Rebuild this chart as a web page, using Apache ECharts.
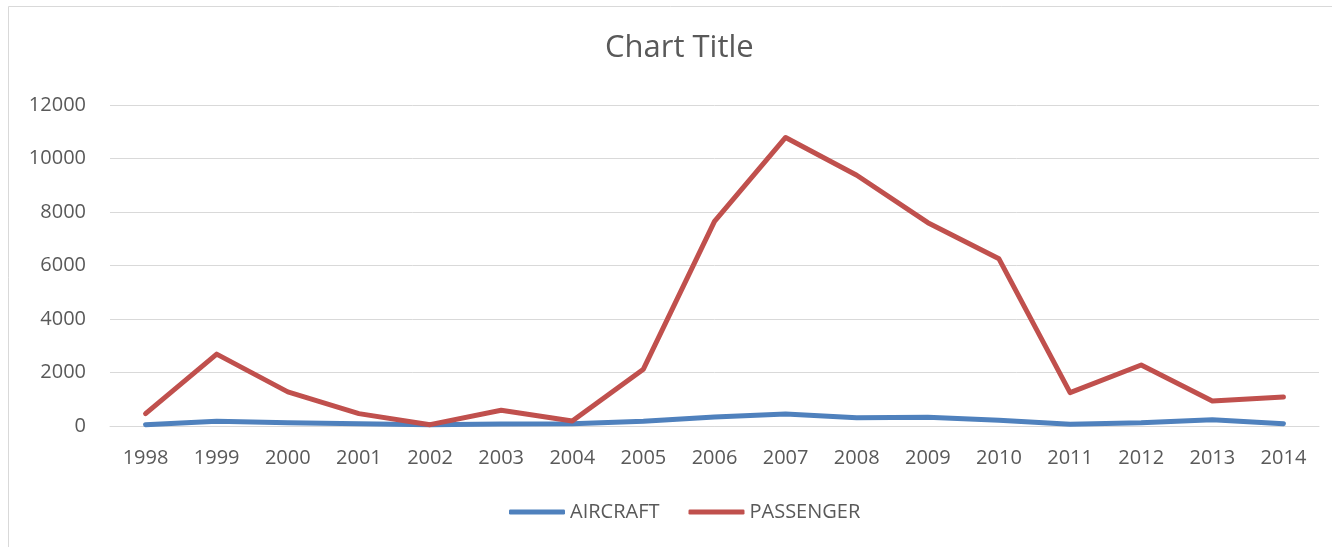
<!DOCTYPE html>
<html>
<head>
<meta charset="utf-8">
<script src="https://cdn.jsdelivr.net/npm/echarts@6/dist/echarts.min.js"></script>
<style>
  html, body { margin: 0; padding: 0; background: #fff; }
  #chart { width: 1332px; height: 547px; }
</style>
</head>
<body>
<div id="chart"></div>
<script>
// Yearly counts, 1998–2014
const years = ['1998','1999','2000','2001','2002','2003','2004','2005','2006',
               '2007','2008','2009','2010','2011','2012','2013','2014'];
const aircraft = [50, 175, 125, 87, 50, 75, 87, 175, 337, 450, 312, 325, 212, 62, 120, 237, 87];
const passenger = [462, 2687, 1275, 462, 50, 587, 187, 2125, 7650, 10787, 9375, 7600, 6250, 1250, 2280, 937, 1087];
const yTicks = { min: 0, max: 12000, step: 2000 };

const textColor = '#595959';
const gridColor = '#d9d9d9';
const font = '"Open Sans", "Liberation Sans", sans-serif';

const chart = echarts.init(document.getElementById('chart'), null, { renderer: 'canvas' });
chart.setOption({
  animation: false,
  backgroundColor: '#fff',
  title: {
    text: 'Chart Title',
    left: 600,
    top: 28,
    textStyle: { color: textColor, fontFamily: font, fontSize: 31, fontWeight: 'normal' }
  },
  graphic: [{
    type: 'rect',
    shape: { x: 8.5, y: 6.5, width: 1400, height: 700 },
    style: { fill: 'none', stroke: gridColor, lineWidth: 1 },
    silent: true
  }],
  legend: {
    left: 504,
    top: 497,
    icon: 'roundRect',
    itemWidth: 56,
    itemHeight: 5,
    itemGap: 29,
    textStyle: { color: textColor, fontFamily: font, fontSize: 20 },
    data: ['AIRCRAFT', 'PASSENGER']
  },
  grid: { left: 110, right: 13, top: 105, bottom: 121 },
  xAxis: {
    type: 'category',
    data: years,
    boundaryGap: true,
    axisLine: { lineStyle: { color: gridColor, width: 1 } },
    axisTick: { show: false },
    axisLabel: { color: textColor, fontFamily: font, fontSize: 20, margin: 22 }
  },
  yAxis: {
    type: 'value',
    min: yTicks.min,
    max: yTicks.max,
    interval: yTicks.step,
    axisLine: { show: false },
    axisTick: { show: false },
    splitLine: { lineStyle: { color: gridColor, width: 1 } },
    axisLabel: {
      color: textColor, fontFamily: font, fontSize: 20, margin: 24,
      formatter: v => String(v)
    }
  },
  series: [
    {
      name: 'AIRCRAFT',
      type: 'line',
      data: aircraft,
      symbol: 'none',
      color: '#4f81bd',
      lineStyle: { width: 5, cap: 'round', join: 'round' }
    },
    {
      name: 'PASSENGER',
      type: 'line',
      data: passenger,
      symbol: 'none',
      color: '#c0504d',
      lineStyle: { width: 5, cap: 'round', join: 'round' }
    }
  ]
});
</script>
</body>
</html>
